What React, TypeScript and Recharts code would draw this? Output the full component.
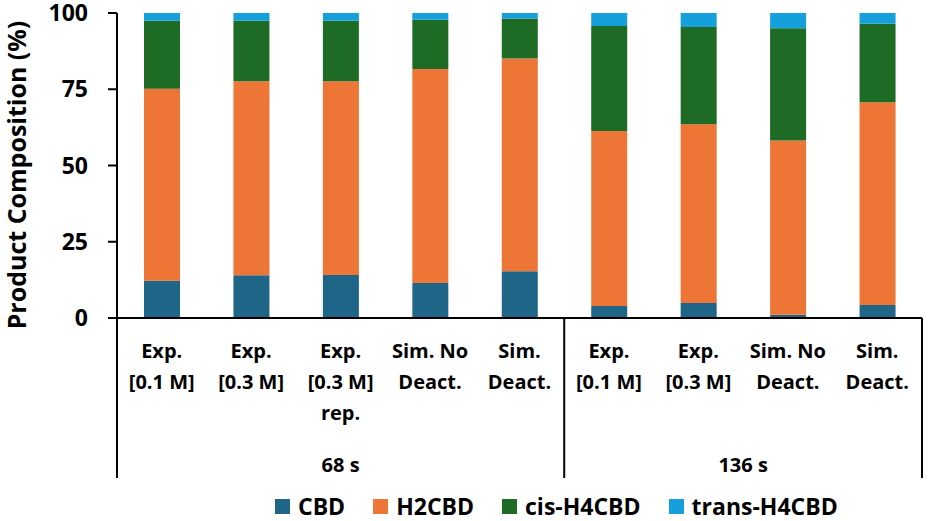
import React from "react";
import { BarChart, Bar, XAxis, YAxis, Legend } from "recharts";

const categoryLines: string[][] = [
  ["Exp.", "[0.1 M]"],
  ["Exp.", "[0.3 M]"],
  ["Exp.", "[0.3 M]", "rep."],
  ["Sim. No", "Deact."],
  ["Sim.", "Deact."],
  ["Exp.", "[0.1 M]"],
  ["Exp.", "[0.3 M]"],
  ["Sim. No", "Deact."],
  ["Sim.", "Deact."],
];

const groups = [
  { label: "68 s", size: 5 },
  { label: "136 s", size: 4 },
];

const cbd = [12.2, 14.0, 14.1, 11.5, 15.3, 3.9, 4.9, 1.1, 4.3];
const h2cbd = [63.0, 63.6, 63.5, 70.1, 69.8, 57.4, 58.6, 57.1, 66.4];
const cisH4cbd = [22.3, 19.9, 19.9, 16.2, 13.1, 34.4, 31.9, 36.8, 25.8];
const transH4cbd = [2.5, 2.5, 2.5, 2.2, 1.8, 4.3, 4.6, 5.0, 3.5];

const yTicks = [0, 25, 50, 75, 100];

const series = [
  { key: "CBD", color: "#1F6587" },
  { key: "H2CBD", color: "#ED7535" },
  { key: "cis-H4CBD", color: "#1D6B24" },
  { key: "trans-H4CBD", color: "#16A0DB" },
];

const data = categoryLines.map((lines, i) => ({
  name: `c${i}`,
  CBD: cbd[i],
  H2CBD: h2cbd[i],
  "cis-H4CBD": cisH4cbd[i],
  "trans-H4CBD": transH4cbd[i],
}));

// group start index for each category
const groupStarts: number[] = [];
let acc = 0;
groups.forEach((g) => {
  groupStarts.push(acc);
  acc += g.size;
});

const FONT = "'Open Sans', sans-serif";

function CategoryTick(props: any) {
  const { x, y, payload, width, visibleTicksCount } = props;
  const i: number = payload?.index ?? props.index;
  const band = width && visibleTicksCount ? width / visibleTicksCount : 89.4;
  const lines = categoryLines[i] || [];
  const gIdx = groupStarts.indexOf(i);
  const isGroupEnd = groupStarts.some((s, g) => s + groups[g].size - 1 === i);
  return (
    <g>
      {lines.map((t, k) => (
        <text
          key={k}
          x={x}
          y={y + 40 + k * 31}
          textAnchor="middle"
          fontFamily={FONT}
          fontWeight={700}
          fontSize={20}
          fill="#000"
        >
          {t}
        </text>
      ))}
      {i === 0 && (
        <line x1={x - band / 2} x2={x - band / 2} y1={y} y2={y + 160} stroke="#000" strokeWidth={2} />
      )}
      {isGroupEnd && (
        <line x1={x + band / 2} x2={x + band / 2} y1={y} y2={y + 160} stroke="#000" strokeWidth={2} />
      )}
      {gIdx >= 0 && (
        <text
          x={x - band / 2 + (groups[gIdx].size * band) / 2}
          y={y + 154}
          textAnchor="middle"
          fontFamily={FONT}
          fontWeight={700}
          fontSize={20}
          fill="#000"
        >
          {groups[gIdx].label}
        </text>
      )}
    </g>
  );
}

function YLabel() {
  const cx = 17;
  const cy = 175;
  return (
    <text
      x={cx}
      y={cy}
      dy="0.35em"
      transform={`rotate(-90, ${cx}, ${cy})`}
      textAnchor="middle"
      fontFamily={FONT}
      fontWeight={700}
      fontSize={25}
      fill="#000"
    >
      Product Composition (%)
    </text>
  );
}

function LegendContent() {
  return (
    <div
      style={{
        display: "flex",
        alignItems: "center",
        paddingLeft: 275,
        paddingTop: 13,
        height: 30,
        fontFamily: FONT,
        fontWeight: 700,
        fontSize: 23,
        color: "#000",
      }}
    >
      {series.map((s) => (
        <div key={s.key} style={{ display: "flex", alignItems: "center", marginRight: 28 }}>
          <span style={{ width: 15, height: 15, background: s.color, display: "inline-block", marginRight: 8 }} />
          <span>{s.key}</span>
        </div>
      ))}
    </div>
  );
}

export default function App() {
  return (
    <div style={{ position: "absolute", left: 0, top: 0, width: 929, height: 521, background: "#fff" }}>
      <BarChart
        width={929}
        height={521}
        data={data}
        margin={{ top: 13, right: 7, left: 0, bottom: 0 }}
        barSize={36}
      >
        <XAxis
          dataKey="name"
          axisLine={{ stroke: "#000", strokeWidth: 2 }}
          tickLine={false}
          tickSize={0}
          tickMargin={0}
          height={160}
          interval={0}
          tick={<CategoryTick />}
        />
        <YAxis
          width={117}
          domain={[0, 100]}
          ticks={yTicks}
          interval={0}
          axisLine={{ stroke: "#000", strokeWidth: 2 }}
          tickLine={{ stroke: "#000", strokeWidth: 2 }}
          tickSize={9}
          tickMargin={20}
          tick={{ fill: "#000", fontSize: 23, fontWeight: 700, fontFamily: FONT }}
          label={{ content: YLabel }}
        />
        <Legend verticalAlign="bottom" height={43} content={<LegendContent />} />
        {series.map((s) => (
          <Bar key={s.key} dataKey={s.key} stackId="a" fill={s.color} isAnimationActive={false} />
        ))}
      </BarChart>
    </div>
  );
}
